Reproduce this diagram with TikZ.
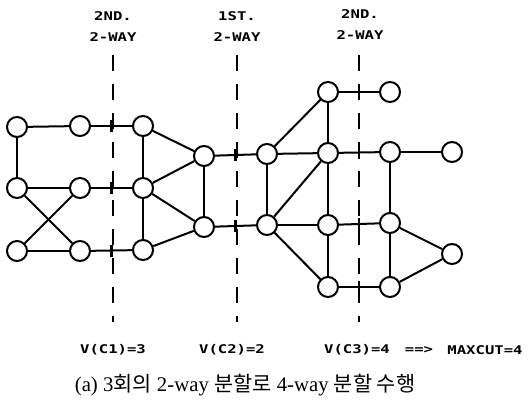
\documentclass[tikz,border=0pt]{standalone}
\usepackage{fontspec}
\setmainfont{Liberation Serif}
\newfontfamily\krfont{Noto Sans CJK KR}
\newfontfamily\dotfont[FakeStretch=1.3]{DejaVu Sans Mono}
\usetikzlibrary{positioning}
\tikzset{%
	vertex/.style   = {draw, circle, fill=white, line width=2pt, minimum size=20pt, inner sep=0pt}, % graph node
	link/.style     = {line width=2pt}, % graph edge
	cutline/.style  = {line width=2pt, dash pattern=on 16pt off 13pt}, % partition line
	cuttick/.style  = {rectangle, fill=black, minimum width=2.2pt, minimum height=12pt, inner sep=0pt}, % cut mark
	cutlabel/.style = {font=\dotfont\bfseries\fontsize{12}{21}\selectfont, align=center, inner sep=0pt}, % printer text
}

\begin{document}
\begin{tikzpicture}[x=1pt,y=-1pt]
	\useasboundingbox (0,0) rectangle (529,401);
	% partition lines
	\coordinate (c1top) at (113,55);
	\coordinate (c1bot) at (113,322);
	\coordinate (c2top) at (237,55);
	\coordinate (c2bot) at (237,322);
	\coordinate (c3top) at (359,55);
	\coordinate (c3bot) at (359,322);
	\draw[cutline] (c1top) -- (c1bot);
	\draw[cutline] (c2top) -- (c2bot);
	\draw[cutline] (c3top) -- (c3bot);
	
	\node [cutlabel] (l1) at (113,27) {2ND.\\2-WAY};
	\node [cutlabel] (l2) at (237,27) {1ST.\\2-WAY};
	\node [cutlabel] (l3) at (360,25) {2ND.\\2-WAY};
	
	% left block
	\node [vertex] (a1) at (17,127) {};
	\node [vertex] (a2) at (80,126) {};
	\node [vertex] (a3) at (143,126) {};
	\node [vertex] (b1) at (17,188) {};
	\node [vertex] (b2) at (80,188) {};
	\node [vertex] (b3) at (143,188) {};
	\node [vertex] (c1) at (17,251) {};
	\node [vertex] (c2) at (80,251) {};
	\node [vertex] (c3) at (143,250) {};
	\node [vertex] (d1) at (204,156) {};
	\node [vertex] (d2) at (204,227) {};
	% right block
	\node [vertex] (e1) at (267,154) {};
	\node [vertex] (e2) at (267,225) {};
	\node [vertex] (t1) at (328,92) {};
	\node [vertex] (t2) at (390,92) {};
	\node [vertex] (f1) at (328,153) {};
	\node [vertex] (f2) at (328,225) {};
	\node [vertex] (f3) at (328,287) {};
	\node [vertex] (g1) at (390,152) {};
	\node [vertex] (g2) at (390,223) {};
	\node [vertex] (g3) at (390,287) {};
	\node [vertex] (h1) at (452,152) {};
	\node [vertex] (h2) at (452,254) {};
	
	\draw[link] (a1) -- (a2);
	\draw[link] (a2) -- node[cuttick] {} (a3);
	\draw[link] (a1) -- (b1);
	\draw[link] (b1) -- (b2);
	\draw[link] (b2) -- node[cuttick] {} (b3);
	\draw[link] (b1) -- (c2);
	\draw[link] (c1) -- (b2);
	\draw[link] (c1) -- (c2);
	\draw[link] (c2) -- node[cuttick] {} (c3);
	\draw[link] (a3) -- (b3);
	\draw[link] (b3) -- (c3);
	\draw[link] (a3) -- (d1);
	\draw[link] (b3) -- (d1);
	\draw[link] (b3) -- (d2);
	\draw[link] (c3) -- (d2);
	\draw[link] (d1) -- (d2);
	\draw[link] (d1) -- node[cuttick] {} (e1);
	\draw[link] (d2) -- node[cuttick] {} (e2);
	
	\draw[link] (e1) -- (e2);
	\draw[link] (e1) -- (f1);
	\draw[link] (e1) -- (t1);
	\draw[link] (e2) -- (f1);
	\draw[link] (e2) -- (f2);
	\draw[link] (e2) -- (f3);
	\draw[link] (t1) -- (f1);
	\draw[link] (t1) -- node[cuttick] {} (t2);
	\draw[link] (f1) -- (f2);
	\draw[link] (f2) -- (f3);
	\draw[link] (f1) -- node[cuttick] {} (g1);
	\draw[link] (f2) -- node[cuttick] {} (g2);
	\draw[link] (f3) -- node[cuttick] {} (g3);
	\draw[link] (g1) -- (g2);
	\draw[link] (g2) -- (g3);
	\draw[link] (g1) -- (h1);
	\draw[link] (g2) -- (h2);
	\draw[link] (g3) -- (h2);
	
	% cut values
	\node [cutlabel] (v1) at (113,350) {V(C1)=3};
	\node [cutlabel] (v2) at (232,350) {V(C2)=2};
	\node [cutlabel] (v3) at (357,350) {V(C3)=4};
	\node [cutlabel] (imp) at (419,350) {==>};
	\node [cutlabel] (mc) at (485,350) {MAXCUT=4};
	
	\node [font=\fontsize{20.8}{23}\selectfont, inner sep=0pt] (cap) at (245,385)
		{(a) 3{\krfont 회의} 2-way {\krfont 분할로} 4-way {\krfont 분할 수행}};
\end{tikzpicture}
\end{document}
